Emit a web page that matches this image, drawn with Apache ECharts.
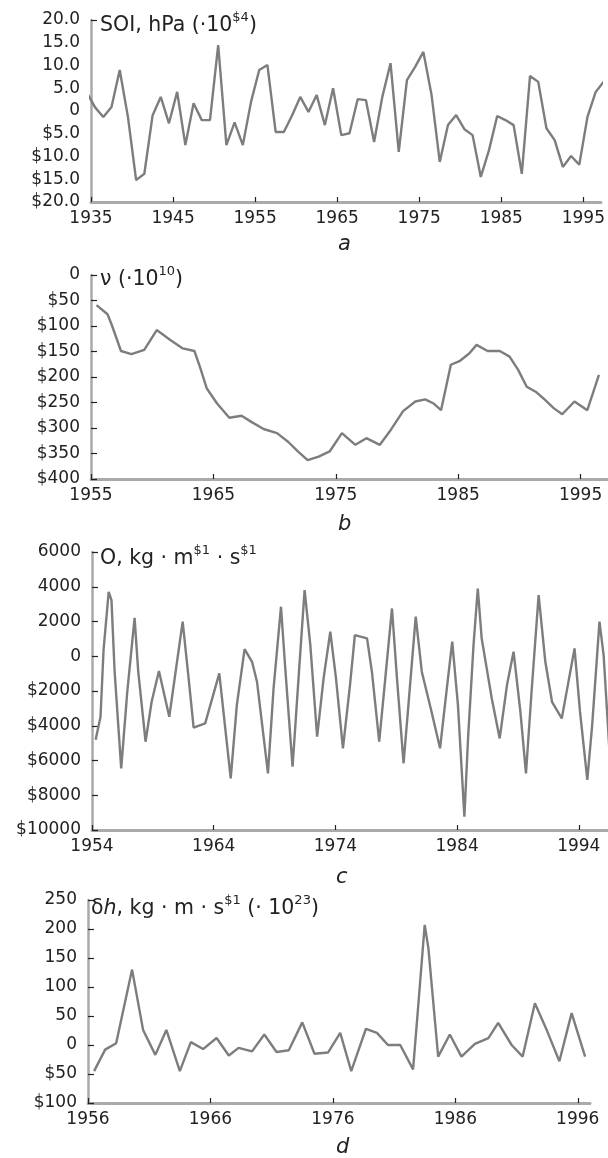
<!DOCTYPE html>
<html>
<head>
<meta charset="utf-8">
<script src="https://cdn.jsdelivr.net/npm/echarts/dist/echarts.min.js"></script>
<style>
html,body{margin:0;padding:0;background:#fff;}
#chart{width:608px;height:1158px;}
</style>
</head>
<body>
<div id="chart"></div>
<script>
// ---------- Panel a: SOI (annual, plotted at mid-year) ----------
const soiYears = [1934,1935,1936,1937,1938,1939,1940,1941,1942,1943,1944,1945,1946,1947,1948,1949,
  1950,1951,1952,1953,1954,1955,1956,1957,1958,1959,1960,1961,1962,1963,1964,1965,1966,1967,1968,1969,
  1970,1971,1972,1973,1974,1975,1976,1977,1978,1979,1980,1981,1982,1983,1984,1985,1986,1987,1988,1989,
  1990,1991,1992,1993,1994,1995,1996,1997];
const soiValues = [4.0,0.8,-1.3,0.9,9.0,-1.3,-15.2,-13.8,-1.0,3.1,-2.7,4.2,-7.5,1.7,-2.0,-2.0,
  14.5,-7.5,-2.5,-7.5,2.0,9.0,10.1,-4.6,-4.6,-1.0,3.1,-0.2,3.5,-3.1,5.0,-5.3,-4.9,2.6,2.4,-6.8,
  3.1,10.5,-9.0,6.8,9.7,13.0,3.5,-11.2,-3.1,-0.9,-4.0,-5.3,-14.5,-8.6,-1.1,-2.0,-3.1,-13.8,7.7,6.4,
  -3.8,-6.4,-12.3,-9.9,-11.8,-1.3,4.2,6.5];
const soiXTicks = [1935,1945,1955,1965,1975,1985,1995];
const soiYTickValues = [-20,-15,-10,-5,0,5,10,15,20];
const soiYTickLabels = ['$20.0','$15.0','$10.0','$5.0','0','5.0','10.0','15.0','20.0'];

// ---------- Panel b: nu ----------
const nuTime = [1955.45,1956.35,1956.7,1957.45,1958.3,1959.35,1960.37,1961.45,1962.5,1963.45,1963.9,
  1964.45,1965.3,1966.3,1967.3,1968.1,1969.1,1970.2,1971.1,1971.9,1972.7,1973.6,1974.5,1975.5,1976.6,
  1977.5,1978.6,1979.4,1980.5,1981.5,1982.3,1983.0,1983.6,1984.4,1985.1,1985.9,1986.5,1987.4,1988.4,
  1989.2,1989.9,1990.6,1991.4,1992.1,1992.8,1993.5,1994.5,1995.55,1996.5];
const nuValues = [-59,-77,-98,-149,-155,-147,-108,-127,-144,-149,-180,
  -222,-252,-280,-276,-288,-302,-310,-327,-346,-363,-356,-346,-310,-333,
  -320,-333,-307,-267,-248,-244,-252,-265,-176,-169,-154,-137,-149,-149,
  -160,-186,-219,-230,-245,-261,-273,-248,-265,-196];
const nuXTicks = [1955,1965,1975,1985,1995];
const nuYTickValues = [-400,-350,-300,-250,-200,-150,-100,-50,0];
const nuYTickLabels = ['$400','$350','$300','$250','$200','$150','$100','$50','0'];

// ---------- Panel c: O ----------
const oTime = [1954.3,1954.7,1954.95,1955.37,1955.6,1955.86,1956.4,1956.9,1957.5,1957.8,1958.4,1958.9,
  1959.5,1960.35,1961.45,1961.94,1962.35,1963.3,1964.46,1964.95,1965.4,1965.9,1966.54,1967.15,1967.56,
  1968.46,1968.92,1969.53,1969.9,1970.48,1970.97,1971.47,1971.94,1972.5,1973.03,1973.58,1974.05,1974.62,
  1975.2,1975.6,1976.6,1977.0,1977.6,1978.1,1978.65,1979.06,1979.6,1980.0,1980.6,1981.1,1981.9,1982.6,
  1983.0,1983.6,1984.07,1984.6,1984.9,1985.35,1985.7,1986.02,1986.85,1987.5,1988.1,1988.64,1989.2,
  1989.66,1990.1,1990.7,1991.25,1991.8,1992.6,1993.1,1993.65,1994.1,1994.7,1995.1,1995.7,1996.04,1996.55];
const oValues = [-4800,-3480,360,3710,3230,-890,-6450,-2040,2210,-890,-4920,-2620,
  -850,-3480,1990,-1270,-4110,-3860,-990,-4150,-7030,-2810,410,-320,-1470,
  -6740,-1850,2850,-890,-6360,-1270,3810,640,-4630,-1270,1410,-1270,-5300,
  -1660,1220,1030,-890,-4920,-1270,2750,-1270,-6160,-2810,2280,-890,-3190,-5300,
  -2810,840,-2810,-9240,-4730,640,3900,1030,-2430,-4730,-1660,260,-3190,
  -6740,-2230,3520,-320,-2620,-3580,-1660,450,-3190,-7120,-3960,1990,70,-5800];
const oXTicks = [1954,1964,1974,1984,1994];
const oYTickValues = [-10000,-8000,-6000,-4000,-2000,0,2000,4000,6000];
const oYTickLabels = ['$10000','$8000','$6000','$4000','$2000','0','2000','4000','6000'];

// ---------- Panel d: delta h ----------
const dhTime = [1956.5,1957.4,1958.3,1959.6,1960.5,1961.5,1962.4,1963.5,1964.4,1965.4,1966.5,1967.5,
  1968.3,1969.4,1970.4,1971.4,1972.4,1973.5,1974.5,1975.6,1976.6,1977.5,1978.7,1979.6,1980.5,1981.5,
  1982.55,1982.9,1983.5,1983.8,1984.6,1985.55,1986.5,1987.6,1988.7,1989.5,1990.6,1991.5,1992.5,1993.5,
  1994.5,1995.5,1996.6];
const dhValues = [-45,-8,3,130,26,-17,26,-45,5,-7,12,-18,
  -5,-11,18,-12,-9,39,-15,-13,21,-45,28,21,0,0,
  -42,49,207,167,-20,18,-20,2,12,38,0,-20,72,24,
  -28,55,-20];
const dhXTicks = [1956,1966,1976,1986,1996];
const dhYTickValues = [-100,-50,0,50,100,150,200,250];
const dhYTickLabels = ['$100','$50','0','50','100','150','200','250'];

// ---------- build ----------
const FONT = 'DejaVu Sans';
const TXT = '#222';
const LINE = '#7d7d7d';

function pairs(xs, ys) { return xs.map((x, i) => [x, ys[i]]); }
function labelFrom(vals, labels) {
  return function (v) {
    const i = vals.findIndex(t => Math.abs(t - v) < 1e-6);
    return i >= 0 ? labels[i] : '';
  };
}

const panels = [
  { grid: {left: 91, top: 20, width: 517, height: 182},
    x: {min: 1935, max: 1997.15, ticks: soiXTicks},
    y: {min: -20, max: 20, interval: 5, vals: soiYTickValues, labels: soiYTickLabels, tickVals: [20]},
    data: pairs(soiYears.map(y => y + 0.5), soiValues) },
  { grid: {left: 91, top: 275, width: 517, height: 204},
    x: {min: 1955, max: 1997.24, ticks: nuXTicks},
    y: {min: -400, max: 0, interval: 50, vals: nuYTickValues, labels: nuYTickLabels},
    data: pairs(nuTime, nuValues) },
  { grid: {left: 92, top: 552, width: 516, height: 278},
    x: {min: 1954, max: 1996.4, ticks: oXTicks},
    y: {min: -10000, max: 6000, interval: 2000, vals: oYTickValues, labels: oYTickLabels},
    data: pairs(oTime, oValues) },
  { grid: {left: 88, top: 900, width: 502, height: 203},
    x: {min: 1956, max: 1997, ticks: dhXTicks},
    y: {min: -100, max: 250, interval: 50, vals: dhYTickValues, labels: dhYTickLabels},
    data: pairs(dhTime, dhValues) }
];

const option = {
  animation: false,
  backgroundColor: '#fff',
  grid: panels.map(p => p.grid),
  xAxis: panels.map((p, i) => ({
    type: 'value', gridIndex: i, min: p.x.min, max: p.x.max,
    splitLine: {show: false},
    axisLine: {show: true, onZero: false, lineStyle: {color: '#aaa', width: 3}},
    axisTick: {show: true, inside: true, length: 5, customValues: p.x.ticks, lineStyle: {color: '#222', width: 1.2}},
    axisLabel: {show: true, customValues: p.x.ticks, margin: 8, fontFamily: FONT, fontSize: 17, color: TXT,
      formatter: v => String(v)}
  })),
  yAxis: panels.map((p, i) => {
    const ax = {
      type: 'value', gridIndex: i, min: p.y.min, max: p.y.max, interval: p.y.interval,
      splitLine: {show: false},
      axisLine: {show: true, onZero: false, lineStyle: {color: '#aaa', width: 2.5}},
      axisTick: {show: true, inside: true, length: 6, lineStyle: {color: '#222', width: 1.2}},
      axisLabel: {show: true, margin: 11, fontFamily: FONT, fontSize: 17, color: TXT,
        formatter: labelFrom(p.y.vals, p.y.labels)}
    };
    if (p.y.tickVals) ax.axisTick.customValues = p.y.tickVals;
    return ax;
  }),
  title: [
    {left: 100, top: 11, text: '{t|SOI, hPa (·10}{s|$4}{t|)}'},
    {left: 100, top: 265, text: '{t|ν (·10}{s|10}{t|)}'},
    {left: 100, top: 544, text: '{t|O, kg · m}{s|$1}{t| · s}{s|$1}'},
    {left: 91, top: 894, text: '{t|δ}{i|h}{t|, kg · m · s}{s|$1}{t| (· 10}{s|23}{t|)}'},
    {left: 338, top: 233, text: '{L|a}'},
    {left: 338, top: 513, text: '{L|b}'},
    {left: 336, top: 866, text: '{L|c}'},
    {left: 336, top: 1136, text: '{L|d}'}
  ].map(t => Object.assign(t, {
    padding: 0,
    textStyle: {
      fontWeight: 'normal',
      rich: {
        t: {fontFamily: FONT, fontSize: 20.5, fontWeight: 'normal', color: TXT, lineHeight: 25, verticalAlign: 'bottom'},
        i: {fontFamily: FONT, fontSize: 20.5, fontWeight: 'normal', color: TXT, fontStyle: 'italic', lineHeight: 25, verticalAlign: 'bottom'},
        s: {fontFamily: FONT, fontSize: 13, fontWeight: 'normal', color: TXT, lineHeight: 25, verticalAlign: 'top'},
        L: {fontFamily: FONT, fontSize: 21, fontWeight: 'normal', color: TXT, fontStyle: 'italic', lineHeight: 24}
      }
    }
  })),
  series: panels.map((p, i) => ({
    type: 'line', xAxisIndex: i, yAxisIndex: i, data: p.data,
    showSymbol: false, clip: true, smooth: false,
    lineStyle: {color: LINE, width: 2.4}
  }))
};

const chart = echarts.init(document.getElementById('chart'), null, {renderer: 'canvas'});
chart.setOption(option);
</script>
</body>
</html>
